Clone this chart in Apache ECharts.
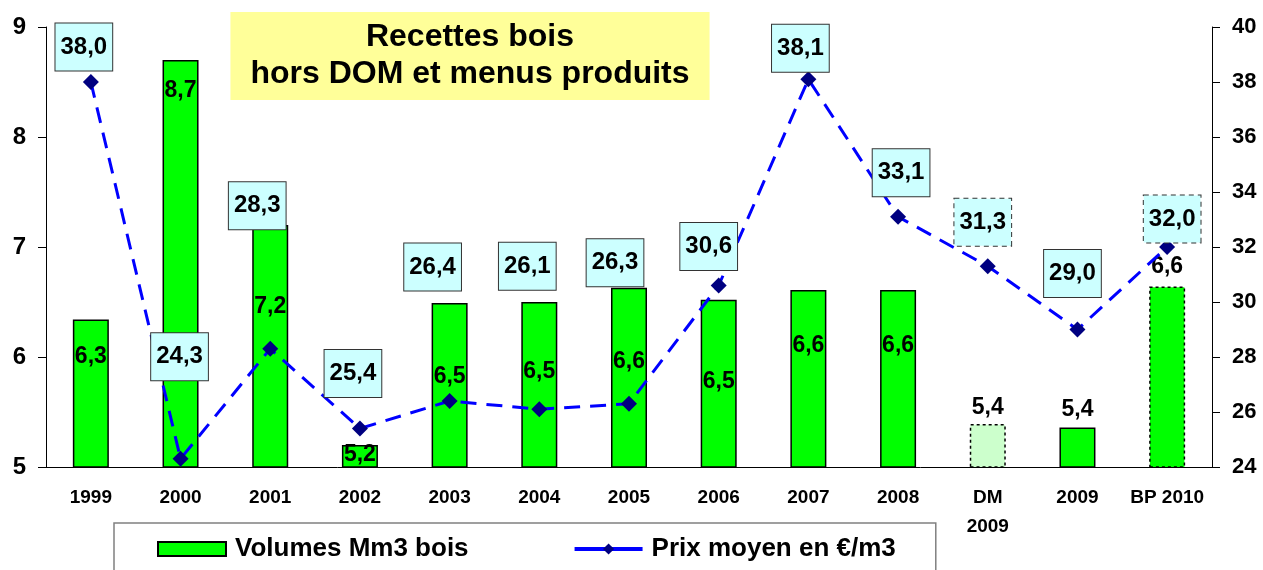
<!DOCTYPE html>
<html>
<head>
    <meta charset="utf-8"/>
    <title>Recettes bois</title>
    <script src="https://cdn.jsdelivr.net/npm/echarts@6/dist/echarts.min.js"></script>
    <style type="text/css">
        html, body { margin: 0; padding: 0; background: #fff; }
        #main { width: 1263px; height: 570px; }
    </style>
</head>
<body>
<div id="main"></div>
<script type="text/javascript">
    // data
    var categories = ['1999', '2000', '2001', '2002', '2003', '2004', '2005', '2006', '2007', '2008', 'DM\n2009', '2009', 'BP 2010'];
    var volumes = [6.34, 8.70, 7.20, 5.20, 6.49, 6.50, 6.63, 6.52, 6.61, 6.61, 5.39, 5.36, 6.64];
    var prices = [38.0, 24.3, 28.3, 25.4, 26.4, 26.1, 26.3, 30.6, 38.1, 33.1, 31.3, 29.0, 32.0];
    var volumeTicks = [5, 6, 7, 8, 9];
    var priceTicks = [24, 26, 28, 30, 32, 34, 36, 38, 40];

    // label placement (px): bar label centre from bar top, price box shift from marker
    var volLabelY = [37, 31, 82, 10, 74, 70, 74, 82, 56, 56, -16, -18, -20];
    var priceLabelShift = [[-7, -35], [-1, -102], [-13, -143], [-7, -55], [-17, -134], [-12, -143], [-14, -141],
        [-10, -39], [-8, -31], [3, -44], [-5, -44], [-5, -56], [5, -28]];

    var FONT = '"Liberation Sans", Arial, sans-serif';

    function fmt(v) {
        return v.toFixed(1).replace('.', ',');
    }

    var volData = volumes.map(function (v, i) {
        var item = {
            value: v,
            label: { position: ['50%', volLabelY[i]] }
        };
        if (i === 10) {
            item.itemStyle = { color: '#CCFFCC', borderType: [3, 3] };
        }
        if (i === 12) {
            item.itemStyle = { color: '#00FF00', borderType: [3, 3] };
        }
        return item;
    });

    var priceData = prices.map(function (v, i) {
        var item = {
            value: v,
            label: { offset: priceLabelShift[i] }
        };
        if (i === 10 || i === 12) {
            item.label.borderType = [5, 4];
        }
        return item;
    });

    var myChart = echarts.init(document.getElementById('main'));

    var option = {
        animation: false,
        title: {
            text: 'Recettes bois\nhors DOM et menus produits',
            left: 470 - 20,
            top: 12,
            textAlign: 'center',
            padding: [7, 20, 7, 20],
            backgroundColor: '#FFFF99',
            textStyle: {
                fontFamily: FONT,
                fontSize: 32,
                fontWeight: 'bold',
                lineHeight: 37,
                color: '#000'
            }
        },
        graphic: [],
        legend: {
            left: 114,
            top: 523,
            padding: [13, 40, 40, 43],
            borderColor: '#808080',
            borderWidth: 1.5,
            itemWidth: 68,
            itemHeight: 14,
            itemGap: 104,
            textStyle: { fontFamily: FONT, fontSize: 26, fontWeight: 'bold', color: '#000', padding: [0, 0, 0, 4] },
            data: [
                { name: 'Volumes Mm3 bois', icon: 'rect' },
                { name: 'Prix moyen en €/m3', lineStyle: { type: 'solid', width: 4 } }
            ]
        },
        grid: { left: 46, right: 51, top: 27, bottom: 103 },
        xAxis: {
            type: 'category',
            data: categories,
            axisLine: { lineStyle: { color: '#000', width: 1 } },
            axisTick: { length: 6, lineStyle: { color: '#000' } },
            axisLabel: {
                interval: 0,
                margin: 16,
                fontFamily: FONT,
                fontSize: 19,
                fontWeight: 'bold',
                lineHeight: 29,
                color: '#000'
            }
        },
        yAxis: [
            {
                type: 'value',
                min: volumeTicks[0],
                max: volumeTicks[volumeTicks.length - 1],
                interval: volumeTicks[1] - volumeTicks[0],
                axisLine: { show: true, lineStyle: { color: '#000' } },
                axisTick: { show: true, length: 8, lineStyle: { color: '#000' } },
                splitLine: { show: false },
                axisLabel: { margin: 20, fontFamily: FONT, fontSize: 24, fontWeight: 'bold', color: '#000' }
            },
            {
                type: 'value',
                position: 'right',
                min: priceTicks[0],
                max: priceTicks[priceTicks.length - 1],
                interval: priceTicks[1] - priceTicks[0],
                axisLine: { show: true, lineStyle: { color: '#000' } },
                axisTick: { show: true, length: 8, lineStyle: { color: '#000' } },
                splitLine: { show: false },
                axisLabel: { margin: 20, fontFamily: FONT, fontSize: 22, fontWeight: 'bold', color: '#000' }
            }
        ],
        series: [
            {
                name: 'Volumes Mm3 bois',
                type: 'bar',
                barWidth: 36,
                data: volData,
                itemStyle: { color: '#00FF00', borderColor: '#000', borderWidth: 1.5 },
                label: {
                    show: true,
                    align: 'center',
                    verticalAlign: 'middle',
                    fontFamily: FONT,
                    fontSize: 23,
                    fontWeight: 'bold',
                    color: '#000',
                    formatter: function (p) { return fmt(p.value); }
                },
                z: 2
            },
            {
                name: 'Prix moyen en €/m3',
                type: 'line',
                yAxisIndex: 1,
                data: priceData,
                symbol: 'diamond',
                symbolSize: 16,
                lineStyle: { color: '#0000FF', width: 3, type: [16, 10] },
                itemStyle: { color: '#000080' },
                label: {
                    show: true,
                    position: 'inside',
                    fontFamily: FONT,
                    fontSize: 24,
                    fontWeight: 'bold',
                    color: '#000',
                    backgroundColor: '#CCFFFF',
                    borderColor: '#333',
                    borderWidth: 1,
                    padding: [12, 5, 11, 5],
                    formatter: function (p) { return fmt(p.value); }
                },
                z: 5
            }
        ]
    };
    myChart.setOption(option);
</script>
</body>
</html>
